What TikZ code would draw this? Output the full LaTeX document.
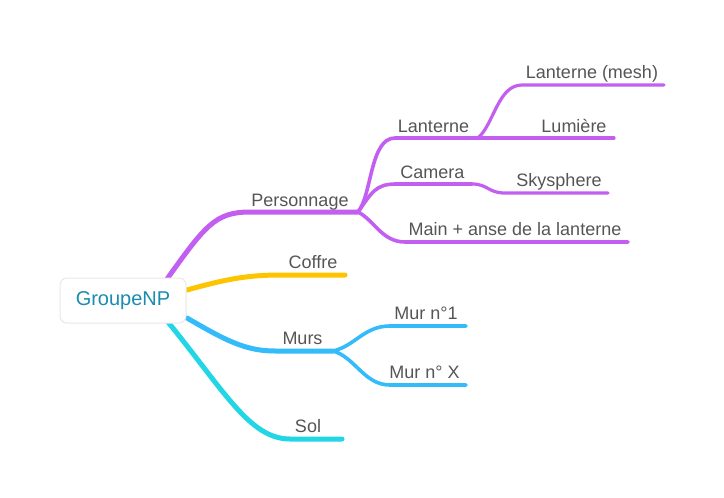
\documentclass[tikz,border=0pt]{standalone}
\usepackage{fontspec}
\setmainfont{Liberation Sans}
\definecolor{cpurple}{HTML}{C25FF0}
\definecolor{cyellow}{HTML}{FFC400}
\definecolor{cblue}{HTML}{33BBFA}
\definecolor{ccyan}{HTML}{22D6E6}
\definecolor{ctext}{HTML}{555555}
\definecolor{croot}{HTML}{1B8CAE}
\begin{document}
\begin{tikzpicture}[x=1pt,y=-1pt,
  lbl/.style={font=\fontsize{18}{20}\selectfont, text=ctext, anchor=base, inner sep=0pt},
  br1/.style={line width=5pt, line cap=round},
  br2/.style={line width=3.6pt, line cap=round},
  br3/.style={line width=3.2pt, line cap=round},
  rootbox/.style={draw=black!9, line width=1pt, fill=white, rounded corners=7pt,
    minimum width=126pt, minimum height=45pt, font=\fontsize{20}{22}\selectfont, text=croot}]
\useasboundingbox (0,0) rectangle (724,498);
% anchor coordinates
\coordinate (rP) at (167,279);
\coordinate (rC) at (187,290);
\coordinate (rM) at (187,318);
\coordinate (rS) at (168,322);
\coordinate (fP) at (358,212);
\coordinate (fL) at (478,138);
\coordinate (fCam) at (472,184);
\coordinate (fM) at (333,351);
\coordinate (eLm) at (664,85);
\coordinate (eLu) at (614,138);
\coordinate (eSk) at (608,193);
\coordinate (eMa) at (628,242);
\coordinate (eCo) at (345,275);
\coordinate (eM1) at (466,326);
\coordinate (eMX) at (466,385);
\coordinate (eSo) at (342,439);
% Personnage
\draw[br1, cpurple] (rP) .. controls (205,226) and (215,212) .. (250,212) -- (fP);
\draw[br2, cpurple] (fP) .. controls (372,195) and (370,138) .. (395,138) -- (fL);
\draw[br3, cpurple] (fL) .. controls (494,124) and (498,85) .. (522,85) -- (eLm);
\draw[br3, cpurple] (fL) -- (eLu);
\draw[br2, cpurple] (fP) .. controls (372,192) and (376,184) .. (396,184) -- (fCam);
\draw[br3, cpurple] (fCam) .. controls (488,184) and (488,193) .. (505,193) -- (eSk);
\draw[br2, cpurple] (fP) .. controls (374,220) and (382,242) .. (405,242) -- (eMa);
% Coffre
\draw[br1, cyellow] (rC) .. controls (230,278) and (250,275) .. (282,275) -- (eCo);
% Murs
\draw[br1, cblue] (rM) .. controls (225,340) and (245,351) .. (275,351) -- (fM);
\draw[br2, cblue] (fM) .. controls (355,346) and (364,326) .. (390,326) -- (eM1);
\draw[br2, cblue] (fM) .. controls (355,357) and (364,385) .. (390,385) -- (eMX);
% Sol
\draw[br1, ccyan] (rS) .. controls (225,392) and (250,439) .. (290,439) -- (eSo);
% root
\node[rootbox] (root) at (123,300.5) {GroupeNP};
% labels
\node[lbl] (tP) at (300,206) {Personnage};
\node[lbl] (tL) at (433.5,132) {Lanterne};
\node[lbl] (tLm) at (592,78.5) {Lanterne (mesh)};
\node[lbl] (tLu) at (574,132) {Lumière};
\node[lbl] (tCam) at (432.5,178) {Camera};
\node[lbl] (tSk) at (559,186.5) {Skysphere};
\node[lbl] (tMa) at (515,235.5) {Main + anse de la lanterne};
\node[lbl] (tCo) at (313,268.5) {Coffre};
\node[lbl] (tM) at (302.5,344.5) {Murs};
\node[lbl] (tM1) at (426,319) {Mur n°1};
\node[lbl] (tMX) at (424.5,378) {Mur n° X};
\node[lbl] (tS) at (308,432) {Sol};
\end{tikzpicture}
\end{document}
